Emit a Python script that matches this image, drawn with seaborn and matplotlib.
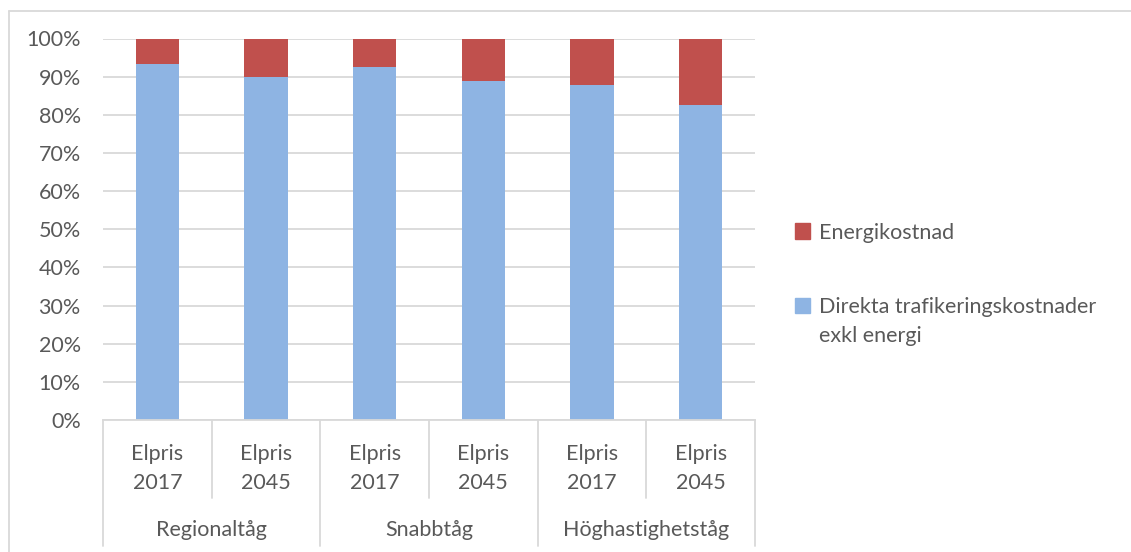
import pandas as pd
import numpy as np
import seaborn as sns
import matplotlib.pyplot as plt
from matplotlib.patches import Patch
from matplotlib.lines import Line2D

groups = ["Regionaltåg", "Snabbtåg", "Höghastighetståg"]
scenarios = ["Elpris\n2017", "Elpris\n2045"]
direkta = [93.2, 90.0, 92.6, 88.8, 87.9, 82.6]
energi = [6.8, 10.0, 7.4, 11.2, 12.1, 17.4]

labels = [f"{g}|{s}" for g in groups for s in scenarios]
df = pd.DataFrame({"kat": labels, "direkta": direkta, "energi": energi})
df["total"] = df["direkta"] + df["energi"]

sns.set_style("white")
plt.rcParams["font.family"] = ["Lato", "DejaVu Sans"]
grey = "#595959"
blue = "#8EB4E3"
red = "#C0504D"
fs = 15.5

fig = plt.figure(figsize=(11.31, 5.52), dpi=100)
ax = fig.add_axes([103 / 1131, 1 - 420 / 552, (755 - 103) / 1131, (420 - 38.5) / 552])

sns.barplot(data=df, x="kat", y="total", color=red, width=0.4, ax=ax,
            saturation=1, linewidth=0)
sns.barplot(data=df, x="kat", y="direkta", color=blue, width=0.4, ax=ax,
            saturation=1, linewidth=0)

ax.set_xlim(-0.5, 5.5)
ax.set_ylim(0, 100)
ax.set_yticks(np.arange(0, 101, 10))
ax.set_yticklabels([f"{v}%" for v in range(0, 101, 10)], fontsize=fs, color=grey)
ax.yaxis.grid(True, color="#D9D9D9", lw=1.3)
ax.set_axisbelow(True)
ax.set_xlabel("")
ax.set_ylabel("")
ax.set_xticks([])
ax.tick_params(axis="y", length=0, pad=16)
for s in ["left", "right", "top"]:
    ax.spines[s].set_visible(False)
ax.spines["bottom"].set_color("#D9D9D9")
ax.spines["bottom"].set_linewidth(1.3)

# two-level category axis
tr = ax.get_xaxis_transform()
for i, lab in enumerate(df["kat"]):
    ax.text(i, -0.127, lab.split("|")[1], transform=tr, ha="center", va="center",
            fontsize=fs, color=grey, linespacing=1.6)
for j, g in enumerate(groups):
    ax.text(2 * j + 0.5, -0.288, g, transform=tr, ha="center", va="center",
            fontsize=fs, color=grey)
for x in [-0.5, 1.5, 3.5, 5.5]:
    ax.add_line(Line2D([x, x], [0, -0.33], transform=tr, color="#D9D9D9",
                       lw=1.3, clip_on=False))
for x in [0.5, 2.5, 4.5]:
    ax.add_line(Line2D([x, x], [0, -0.205], transform=tr, color="#D9D9D9",
                       lw=1.3, clip_on=False))

handles = [Patch(color=red, label="Energikostnad"),
           Patch(color=blue, label="Direkta trafikeringskostnader")]
leg = fig.legend(handles=handles, loc="center left", bbox_to_anchor=(0.686, 1 - 270 / 552),
                 frameon=False, fontsize=fs, labelcolor=grey, handlelength=0.7,
                 handleheight=0.7, handletextpad=0.4, labelspacing=2.55)

# second line of the long legend label, placed under the first
fig.canvas.draw()
bb = leg.get_texts()[1].get_window_extent()
fig.text(bb.x0 / 1131, (bb.y0 + bb.y1) / 2 / 552 - 29 / 552, "exkl energi",
         fontsize=fs, color=grey, ha="left", va="center")

# outer frame
fig.add_artist(Line2D([9 / 1131, 1], [1 - 11 / 552] * 2, color="#D9D9D9", lw=1.3))
fig.add_artist(Line2D([9 / 1131] * 2, [0, 1 - 11 / 552], color="#D9D9D9", lw=1.3))

fig.savefig("out.png", dpi=100)
